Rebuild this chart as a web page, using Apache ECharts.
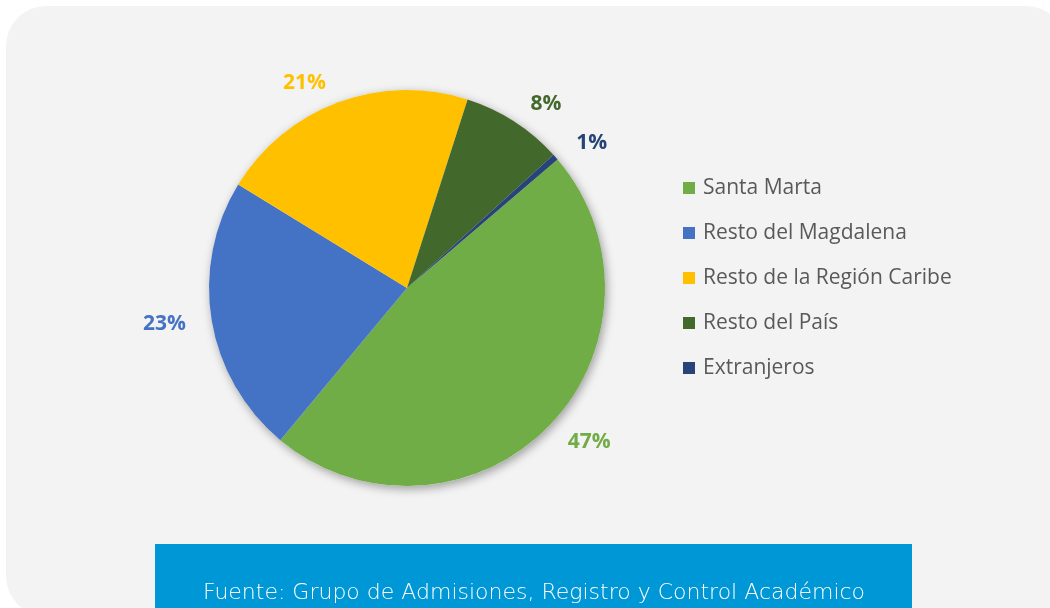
<!DOCTYPE html>
<html>
<head>
<meta charset="UTF-8">
<title>Procedencia</title>
<script type="text/javascript" src="https://cdn.jsdelivr.net/npm/echarts@6/dist/echarts.min.js"></script>
<style>
  html,body{margin:0;padding:0;background:#ffffff}
</style>
</head>
<body>
<div id="main" style="width:1050px;height:608px"></div>
<script type="text/javascript">
// datos
var categorias = ['Santa Marta', 'Resto del Magdalena', 'Resto de la Región Caribe', 'Resto del País', 'Extranjeros'];
var valores = [47.3, 22.7, 21.2, 8.3, 0.5];
var colores = ['#70AD47', '#4472C4', '#FFC000', '#43682B', '#264478'];
var fuente = 'Fuente: Grupo de Admisiones, Registro y Control Académico';

var myEcharts = echarts.init(document.getElementById('main'));

var datos = categorias.map(function(c, i) {
  return {
    name: c,
    value: valores[i],
    itemStyle: { color: colores[i] },
    label: { color: colores[i] }
  };
});

var option = {
  animation: false,
  graphic: [
    {
      type: 'rect', z: -10,
      shape: { x: 6, y: 6, width: 1060, height: 610, r: 40 },
      style: { fill: '#F3F3F3' }
    },
    {
      type: 'rect', z: 10,
      shape: { x: 155, y: 544, width: 757, height: 70 },
      style: { fill: '#0097D6' }
    },
    {
      type: 'text', z: 11,
      x: 534, y: 593,
      style: {
        text: fuente, fill: '#ffffff',
        font: '200 22px "DejaVu Sans", sans-serif',
        align: 'center', verticalAlign: 'middle'
      }
    }
  ],
  legend: {
    orient: 'vertical',
    left: 678,
    top: 171,
    icon: 'rect',
    itemWidth: 12,
    itemHeight: 12,
    itemGap: 21,
    data: categorias,
    textStyle: {
      color: '#595959',
      fontSize: 21,
      lineHeight: 24,
      fontFamily: '"Open Sans", "Noto Sans", sans-serif',
      padding: [0, 0, 0, 3]
    }
  },
  series: [
    {
      // sombra bajo el pastel
      type: 'pie',
      silent: true,
      center: [407, 288],
      radius: 198,
      label: { show: false },
      labelLine: { show: false },
      itemStyle: {
        color: '#F3F3F3',
        shadowBlur: 10,
        shadowColor: 'rgba(0,0,0,0.35)',
        shadowOffsetX: 2,
        shadowOffsetY: 3
      },
      data: [{ name: '', value: 1 }],
      z: 1
    },
    {
      name: 'Procedencia',
      type: 'pie',
      center: [407, 288],
      radius: 198,
      startAngle: 40.5,
      clockwise: true,
      z: 2,
      itemStyle: { borderWidth: 0 },
      label: {
        show: true,
        position: 'outside',
        formatter: function(p) { return Math.round(p.percent) + '%'; },
        fontSize: 21,
        fontWeight: 'bold',
        fontFamily: '"Open Sans", "Noto Sans", sans-serif'
      },
      labelLine: { show: false, length: 21, length2: 0 },
      emphasis: { disabled: true },
      data: datos
    }
  ]
};
myEcharts.setOption(option);
</script>
</body>
</html>
